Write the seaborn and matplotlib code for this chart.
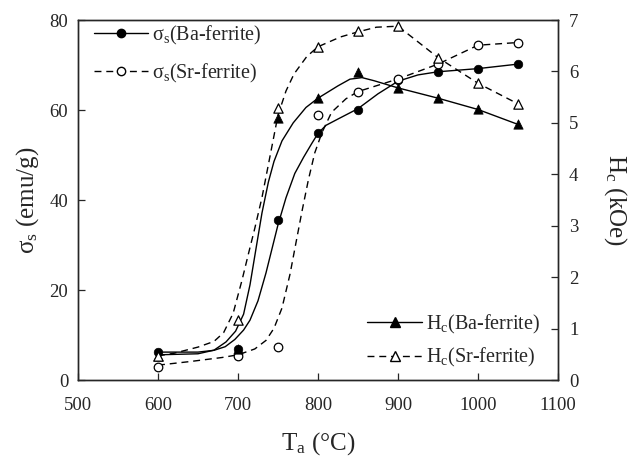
import numpy as np
import pandas as pd
import seaborn as sns
import matplotlib.pyplot as plt
from matplotlib.lines import Line2D

# measured points
temps = [600, 700, 750, 800, 850, 900, 950, 1000, 1050]
ms_ba = [6.3, 7.0, 35.6, 55.0, 60.0, 66.7, 68.5, 69.1, 70.2]
ms_sr = [3.0, 5.3, 7.4, 59.0, 64.1, 66.9, 70.2, 74.4, 75.0]
hc_ba = [0.47, 0.6, 5.09, 5.48, 5.98, 5.67, 5.48, 5.26, 4.97]
hc_sr = [0.47, 1.17, 5.28, 6.48, 6.78, 6.88, 6.27, 5.77, 5.37]

# fitted curves
ms_ba_fit_t = [600, 650, 670, 684, 696, 707, 715, 725, 735, 742, 750, 760, 771, 782, 792, 800,
               810, 825, 850, 875, 900, 925, 950, 1000, 1050]
ms_ba_fit = [6.2, 6.2, 6.6, 7.4, 9.0, 11.1, 13.3, 17.6, 23.8, 28.8, 34.5, 40.5, 45.9, 49.5, 52.5, 54.8,
             56.6, 58.0, 60.3, 63.6, 66.4, 67.8, 68.5, 69.2, 70.2]
ms_sr_fit_t = [600, 640, 680, 700, 721, 735, 745, 755, 765, 773, 780, 788, 796, 805, 817, 835, 850,
               900, 950, 1000, 1050]
ms_sr_fit = [3.3, 4.1, 5.0, 5.6, 6.9, 8.8, 11.5, 16.0, 23.5, 31.0, 37.5, 44.5, 50.5, 55.0, 59.5, 62.5, 64.1,
             66.9, 70.2, 74.4, 75.0]
hc_ba_fit_t = [600, 650, 670, 685, 697, 707, 715, 723, 730, 738, 745, 755, 769, 785, 800, 825, 840, 855,
               870, 900, 950, 1000, 1050]
hc_ba_fit = [0.49, 0.51, 0.58, 0.74, 0.95, 1.28, 1.85, 2.6, 3.25, 3.85, 4.25, 4.65, 5.0, 5.3, 5.48, 5.72, 5.85, 5.88,
             5.82, 5.68, 5.48, 5.26, 4.97]
hc_sr_fit_t = [600, 620, 650, 670, 682, 694, 705, 713, 721, 730, 740, 750, 760, 770, 786, 800, 828, 850,
               873, 900, 950, 1000, 1050]
hc_sr_fit = [0.47, 0.52, 0.64, 0.75, 0.92, 1.3, 1.94, 2.45, 2.95, 3.55, 4.35, 5.15, 5.62, 5.95, 6.29, 6.48, 6.67, 6.77,
             6.86, 6.88, 6.27, 5.77, 5.37]

sns.set_style("ticks")
plt.rcParams['font.family'] = ['Liberation Serif', 'DejaVu Serif']
plt.rcParams['mathtext.fontset'] = 'custom'
plt.rcParams['mathtext.rm'] = 'Liberation Serif'
plt.rcParams['mathtext.it'] = 'Liberation Serif:italic'
plt.rcParams['xtick.direction'] = 'in'
plt.rcParams['ytick.direction'] = 'in'

fig = plt.figure(figsize=(6.31, 4.59), dpi=100)
ax = fig.add_axes([0.1236, 0.1721, 0.7607, 0.7843])
ax2 = ax.twinx()

lw = 1.0
dash = (5, 3.5)

# left axis: saturation magnetisation
sns.lineplot(x=ms_ba_fit_t, y=ms_ba_fit, ax=ax, color='k', lw=lw)
sns.lineplot(x=ms_sr_fit_t, y=ms_sr_fit, ax=ax, color='k', lw=lw)
ax.lines[-1].set_dashes(dash)
sns.scatterplot(x=temps, y=ms_ba, ax=ax, marker='o', s=38, color='k', edgecolor='k', zorder=5)
sns.scatterplot(x=temps, y=ms_sr, ax=ax, marker='o', s=38, facecolor='white', edgecolor='k', linewidth=0.9, zorder=5)

# right axis: coercivity
sns.lineplot(x=hc_ba_fit_t, y=hc_ba_fit, ax=ax2, color='k', lw=lw)
sns.lineplot(x=hc_sr_fit_t, y=hc_sr_fit, ax=ax2, color='k', lw=lw)
ax2.lines[-1].set_dashes(dash)
sns.scatterplot(x=temps, y=hc_ba, ax=ax2, marker='^', s=45, color='k', edgecolor='k', zorder=5)
sns.scatterplot(x=temps, y=hc_sr, ax=ax2, marker='^', s=45, facecolor='white', edgecolor='k', linewidth=0.9, zorder=5)

ax.set_xlim(500, 1100)
ax.set_ylim(0, 80)
ax2.set_ylim(0, 7)
ax.set_xticks(np.arange(500, 1101, 100))
ax.set_yticks(np.arange(0, 81, 20))
ax2.set_yticks(np.arange(0, 8, 1))

for a in (ax, ax2):
    a.tick_params(labelsize=13.5, length=5, width=0.9, pad=6)
    for sp in a.spines.values():
        sp.set_visible(True)
        sp.set_linewidth(1.0)
ax.tick_params(axis='x', pad=12)
ax.tick_params(axis='y', right=False, pad=7)
ax2.tick_params(axis='y', left=False, pad=8)

ax.set_xlabel('T$_{\\rm a}$ (°C)', fontsize=18, labelpad=12)
ax.set_ylabel('σ$_{\\rm s}$ (emu/g)', fontsize=18, labelpad=6)
ax2.set_ylabel('H$_{\\rm c}$ (kOe)', fontsize=18, rotation=270, labelpad=36)

h1 = [Line2D([], [], color='k', lw=lw, marker='o', ms=6, mfc='k', mec='k'),
      Line2D([], [], color='k', lw=lw, ls=(0, dash), marker='o', ms=6, mfc='white', mec='k')]
leg1 = ax2.legend(h1, ['σ$_{\\rm s}$(Ba-ferrite)', 'σ$_{\\rm s}$(Sr-ferrite)'],
                  loc='upper left', bbox_to_anchor=(-0.005, 1.04), frameon=False,
                  fontsize=14.5, handlelength=2.7, handletextpad=0.2, labelspacing=0.75)
ax2.add_artist(leg1)
h2 = [Line2D([], [], color='k', lw=lw, marker='^', ms=6.5, mfc='k', mec='k'),
      Line2D([], [], color='k', lw=lw, ls=(0, dash), marker='^', ms=6.5, mfc='white', mec='k')]
ax2.legend(h2, ['H$_{\\rm c}$(Ba-ferrite)', 'H$_{\\rm c}$(Sr-ferrite)'],
           loc='lower right', bbox_to_anchor=(1.0, -0.02), frameon=False,
           fontsize=14.5, handlelength=2.7, handletextpad=0.2, labelspacing=0.5)

fig.savefig('out.png', dpi=100)
